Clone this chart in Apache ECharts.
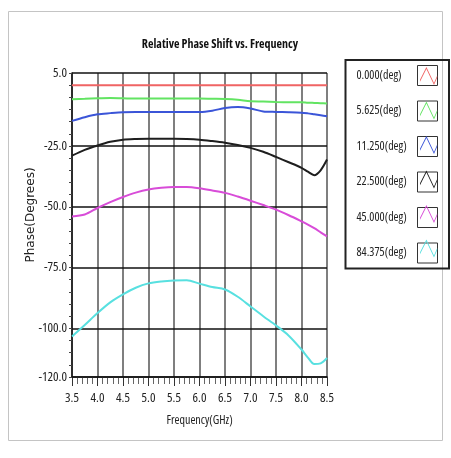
<!DOCTYPE html>
<html>
<head>
<meta charset="utf-8">
<script src="https://cdn.jsdelivr.net/npm/echarts@6/dist/echarts.min.js"></script>
<style>
html,body{margin:0;padding:0;background:#fff;}
#chart{width:451px;height:458px;}
</style>
</head>
<body>
<div id="chart"></div>
<script>
// ---- data ----
const freq = [3.5,3.75,4.0,4.25,4.5,4.75,5.0,5.25,5.5,5.75,6.0,6.25,6.5,6.75,7.0,7.25,7.5,7.75,8.0,8.125,8.25,8.375,8.5];
const ph0000 = [0,0,0,0,0,0,0,0,0,0,0,0,0,0,0,0,0,0,0,0,0,0,0];
const ph5625 = [-5.8,-5.6,-5.4,-5.3,-5.4,-5.5,-5.5,-5.5,-5.5,-5.5,-5.5,-5.6,-5.7,-6.0,-6.6,-6.7,-6.9,-7.0,-7.0,-7.2,-7.3,-7.4,-7.5];
const ph11250 = [-14.7,-13.2,-12.0,-11.5,-11.1,-11.0,-11.0,-11.0,-11.0,-11.0,-11.0,-10.5,-9.4,-9.0,-9.6,-10.8,-11.0,-11.1,-11.3,-11.6,-12.0,-12.4,-12.8];
const ph22500 = [-29.0,-26.6,-24.8,-23.3,-22.4,-22.1,-22.0,-22.0,-22.0,-22.1,-22.4,-23.0,-23.7,-24.6,-25.8,-27.4,-29.5,-31.7,-34.0,-35.6,-37.0,-35.0,-30.6];
const ph45000 = [-54.0,-53.2,-50.5,-48.1,-46.0,-44.2,-42.9,-42.2,-41.9,-41.9,-42.4,-43.3,-44.3,-45.8,-47.5,-49.3,-51.2,-53.5,-56.0,-57.3,-58.8,-60.5,-62.2];
const ph84375 = [-103.3,-98.6,-93.7,-89.3,-86.0,-83.3,-81.5,-80.7,-80.3,-80.2,-81.6,-83.0,-84.0,-87.0,-91.0,-95.0,-98.8,-103.0,-108.7,-112.0,-114.7,-114.4,-112.2];
const seriesNames = ['0.000(deg)','5.625(deg)','11.250(deg)','22.500(deg)','45.000(deg)','84.375(deg)'];
const yTickLabels = [5, -25, -50, -75, -100, -120];
const xTickLabels = [3.5,4.0,4.5,5.0,5.5,6.0,6.5,7.0,7.5,8.0,8.5];

// ---- styles ----
const FONT = "'Open Sans'";
const COND = 'condensed';
const colors = ['#f06464','#62e462','#3b55d8','#1e1e1e','#d84cd8','#58e0e0'];
const allData = [ph0000, ph5625, ph11250, ph22500, ph45000, ph84375];

const zig = 'path://M0 0L0.5 0L0.5 0.5Z M100 100L99.5 100L99.5 99.5Z M10 74L42 10L80 90L96 52L96 62L80 100L42 20L10 84Z';

const chart = echarts.init(document.getElementById('chart'), null, {renderer:'canvas'});
const series = seriesNames.map((n, i) => {
  const s = {
    name: n,
    type: 'line',
    data: freq.map((f, k) => [f, allData[i][k]]),
    symbol: 'none',
    smooth: 0.3,
    lineStyle: {color: colors[i], width: 2},
    itemStyle: {color: colors[i]},
    z: 3
  };
  if (i === 0) {
    s.markLine = {
      silent: true,
      symbol: 'none',
      animation: false,
      label: {show: false},
      lineStyle: {color: '#111', width: 1.5, type: 'solid'},
      data: yTickLabels.map(v => ({yAxis: v})),
      z: 1
    };
  }
  return s;
});

chart.setOption({
  animation: false,
  backgroundColor: '#fff',
  title: {
    text: 'Relative Phase Shift vs. Frequency',
    left: 215, top: 34, textAlign: 'center',
    textStyle: {fontFamily: FONT, fontStyle: COND, fontWeight: 'bold', fontSize: 12, color: '#111'}
  },
  graphic: [{
    type: 'rect', shape: {x: 8.5, y: 11.5, width: 434, height: 429},
    style: {fill: 'none', stroke: '#c4c4c4', lineWidth: 1}, z: -1
  }],
  legend: [{
    orient: 'vertical', right: 2, top: 60,
    padding: [5, 11, 5, 11], itemGap: 14.5,
    itemWidth: 20, itemHeight: 20, align: 'right',
    icon: 'rect',
    borderColor: '#222', borderWidth: 2,
    itemStyle: {color: '#fff', borderColor: '#333', borderWidth: 1},
    data: seriesNames,
    formatter: '{a|{name}}',
    textStyle: {fontFamily: FONT, fontStyle: COND, fontSize: 12, color: '#222',
      rich: {a: {width: 56, align: 'left', fontFamily: FONT, fontStyle: COND, fontSize: 12, color: '#222'}}},
    selectedMode: false, z: 4
  }, {
    orient: 'vertical', right: 2, top: 60,
    padding: [5, 11, 5, 11], itemGap: 14.5,
    itemWidth: 20, itemHeight: 20, align: 'right',
    icon: zig,
    itemStyle: {borderWidth: 0},
    data: seriesNames,
    formatter: () => '',
    selectedMode: false, z: 6
  }],
  grid: {left: 72, right: 124, top: 73, bottom: 81, containLabel: false},
  xAxis: {
    type: 'value', min: 3.5, max: 8.5, interval: 0.5,
    name: 'Frequency(GHz)', nameLocation: 'middle', nameGap: 38,
    nameMoveOverlap: false,
    nameTextStyle: {fontFamily: FONT, fontStyle: COND, fontSize: 12, color: '#222'},
    axisLine: {show: true, onZero: false, lineStyle: {color: '#111', width: 1.5}},
    axisTick: {show: true, length: 9, inside: false, lineStyle: {color: '#333'}},
    minorTick: {show: true, splitNumber: 5, length: 7, lineStyle: {color: '#666'}},
    axisLabel: {
      margin: 15, fontFamily: FONT, fontStyle: COND, fontSize: 13, color: '#222',
      formatter: v => xTickLabels.some(t => Math.abs(t - v) < 1e-6) ? v.toFixed(1) : ''
    },
    splitLine: {show: true, lineStyle: {color: '#555', width: 1.5}}
  },
  yAxis: {
    type: 'value', min: -120, max: 5, interval: 5,
    name: 'Phase(Degrees)', nameLocation: 'middle', nameGap: 35, nameRotate: 90,
    nameMoveOverlap: false,
    nameTextStyle: {fontFamily: "'DejaVu Sans',sans-serif", fontSize: 12, color: '#222', padding: [0, 0, 0, 20]},
    axisLine: {show: true, onZero: false, lineStyle: {color: '#111', width: 1.5}},
    axisTick: {show: true, length: 3, lineStyle: {color: '#444'}},
    axisLabel: {
      margin: 5, fontFamily: FONT, fontStyle: COND, fontSize: 13, color: '#222',
      formatter: v => yTickLabels.indexOf(v) >= 0 ? v.toFixed(1) : ''
    },
    splitLine: {show: false}
  },
  series: series
});
</script>
</body>
</html>
